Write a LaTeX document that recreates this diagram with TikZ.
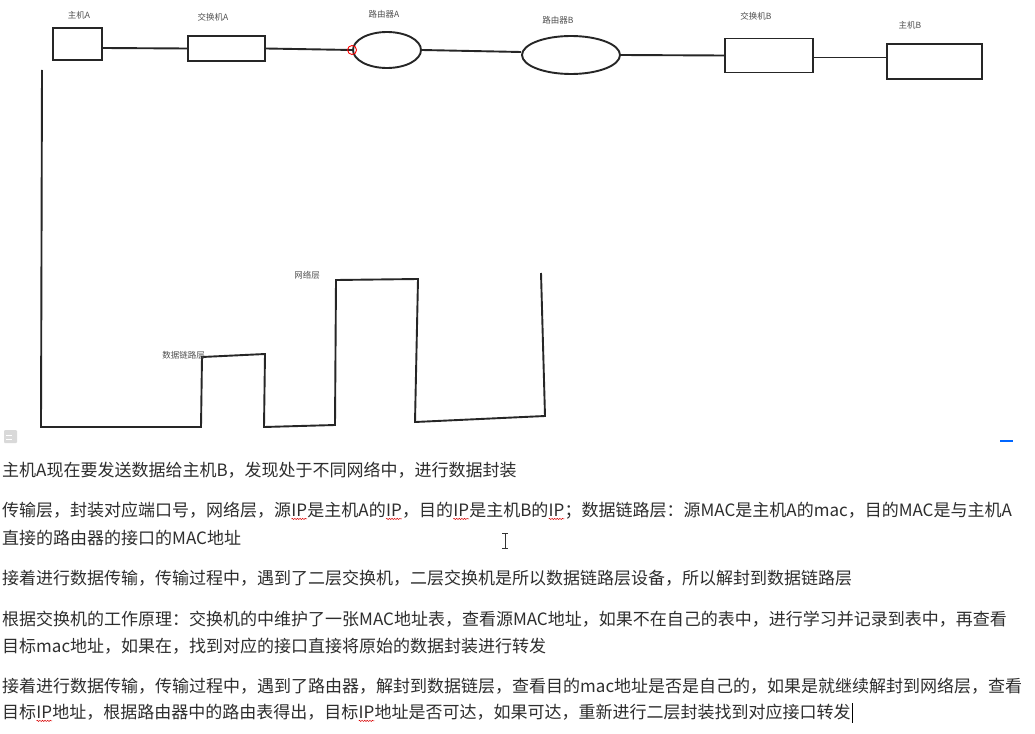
\documentclass[tikz,border=0pt]{standalone}
\usepackage{fontspec}
\setmainfont{Noto Sans CJK SC}
\usetikzlibrary{shapes.geometric,decorations.pathmorphing}
\definecolor{txt}{HTML}{2E2E2E}
\definecolor{lbl}{HTML}{505050}
\newcommand{\wv}[1]{\tikz[baseline=(w.base)]{\node[inner sep=0pt,outer sep=0pt](w){#1};\draw[red!85!black,line width=0.5pt,decorate,decoration={snake,amplitude=0.6pt,segment length=2.6pt}]([yshift=-2.2pt]w.south west)--([yshift=-2.2pt]w.south east);}}
\begin{document}
\begin{tikzpicture}[x=1pt,y=-1pt,
  dev/.style={draw=black!85,line width=1.9pt,inner sep=0pt},
  box/.style={dev,rectangle},
  oval/.style={dev,ellipse},
  wire/.style={draw=black!85,line width=1.9pt},
  lab/.style={font=\fontsize{8.5}{10}\selectfont,text=lbl,inner sep=0pt},
  para/.style={font=\fontsize{17}{20}\selectfont,text=txt,inner sep=0pt,anchor=west}]
\useasboundingbox[fill=white] (0,0) rectangle (1035,733);
% devices
\node[box,minimum width=49pt,minimum height=32pt] (hA) at (77.5,44) {};
\node[box,minimum width=77pt,minimum height=25pt] (swA) at (226.5,48.5) {};
\node[oval,minimum width=68pt,minimum height=36pt] (rA) at (387,50) {};
\node[oval,minimum width=98pt,minimum height=38pt] (rB) at (571,55) {};
\node[box,minimum width=88pt,minimum height=34pt] (swB) at (769,55.5) {};
\node[box,minimum width=95pt,minimum height=35pt] (hB) at (934.5,61.5) {};
% labels
\node[lab] (lhA) at (79,15) {主机A};
\node[lab] (lswA) at (213,17) {交换机A};
\node[lab] (lrA) at (384,14) {路由器A};
\node[lab] (lrB) at (558,20) {路由器B};
\node[lab] (lswB) at (756,16) {交换机B};
\node[lab] (lhB) at (910,25) {主机B};
% connectors
\draw[wire] ([yshift=-4pt]hA.east) -- (swA.west);
\draw[wire] (swA.east) -- (rA.west);
\draw[wire] (rA.east) -- ([yshift=3pt]rB.west);
\draw[wire] (rB.east) -- (swB.west);
\draw[wire] ([yshift=-2pt]swB.east) -- ([yshift=4pt]hB.west);
\draw[red,line width=0.9pt] (rA.west) circle (4.5pt);
% layer step line
\draw[wire,line join=miter] (42,70) -- (41,427) -- (201,427) -- (202,357) -- (265,354) -- (264,427) -- (335,425) -- (336,280) -- (418,279) -- (415,422) -- (545,416) -- (541,273);
\node[lab,anchor=east] (ldl) at (205,355) {数据链路层};
\node[lab] (lnw) at (307,275) {网络层};
% screenshot artifacts
\fill[black!15,rounded corners=1pt] (4,430) rectangle (17,443);
\draw[white,line width=1pt] (6,435) -- (12,435) (6,439) -- (12,439);
\draw[blue!60!cyan,line width=1.5pt] (1000,441) -- (1013,441);
\draw[black!80,line width=0.9pt] (505,533) -- (505,548) (502,533) -- (508,533) (502,548) -- (508,548);
% paragraphs
\node[para] (p1) at (2,470) {主机A现在要发送数据给主机B，发现处于不同网络中，进行数据封装};
\node[para] (p2a) at (2,511) {传输层，封装对应端口号，网络层，源\wv{IP}是主机A的\wv{IP}，目的\wv{IP}是主机B的\wv{IP}；数据链路层：源MAC是主机A的mac，目的MAC是与主机A};
\node[para] (p2b) at (2,538) {直接的路由器的接口的MAC地址};
\node[para] (p3) at (2,578) {接着进行数据传输，传输过程中，遇到了二层交换机，二层交换机是所以数据链路层设备，所以解封到数据链路层};
\node[para] (p4a) at (2,619) {根据交换机的工作原理：交换机的中维护了一张MAC地址表，查看源MAC地址，如果不在自己的表中，进行学习并记录到表中，再查看};
\node[para] (p4b) at (2,646) {目标mac地址，如果在，找到对应的接口直接将原始的数据封装进行转发};
\node[para] (p5a) at (2,686) {接着进行数据传输，传输过程中，遇到了路由器，解封到数据链层，查看目的mac地址是否是自己的，如果是就继续解封到网络层，查看};
\node[para] (p5b) at (2,713) {目标\wv{IP}地址，根据路由器中的路由表得出，目标\wv{IP}地址是否可达，如果可达，重新进行二层封装找到对应接口转发};
\draw[black,line width=0.8pt] ([xshift=2pt]p5b.east) ++(0,-10) -- ++(0,20);
\end{tikzpicture}
\end{document}
